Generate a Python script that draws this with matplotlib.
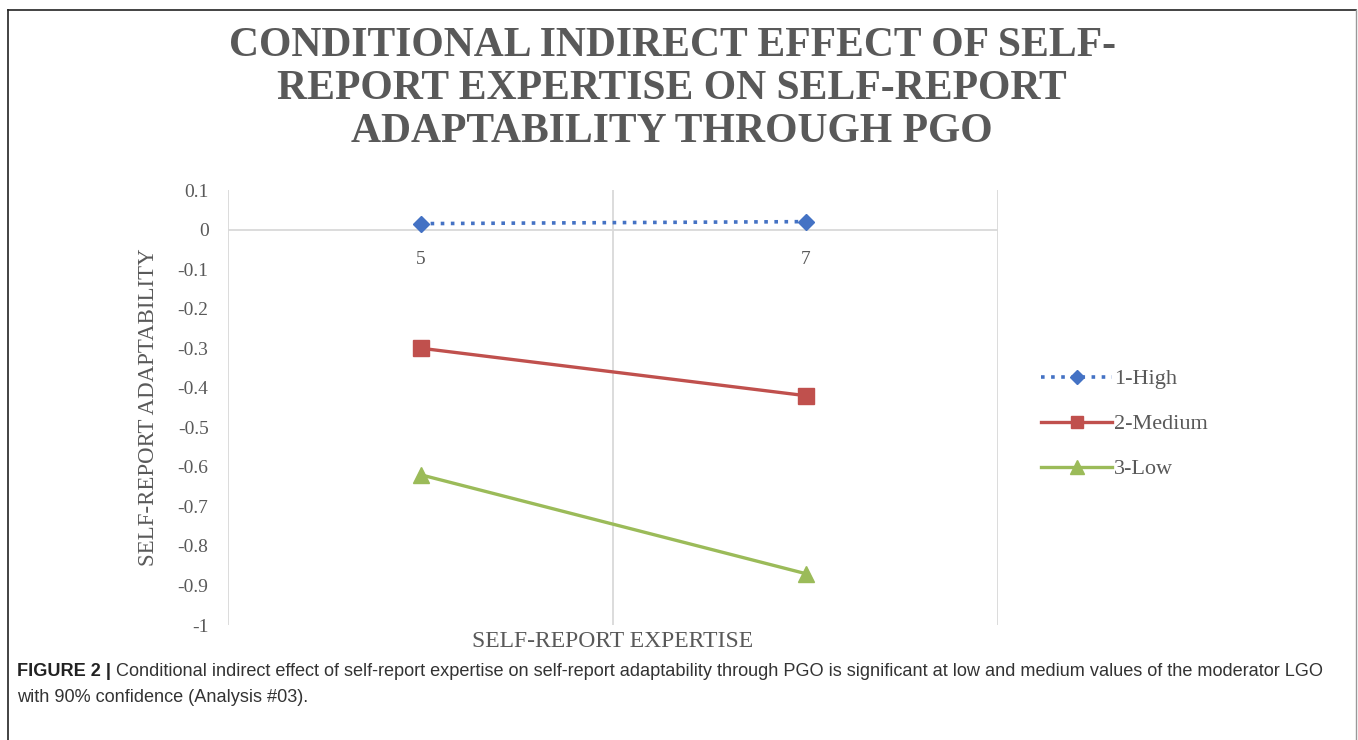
import matplotlib
matplotlib.use("Agg")
import matplotlib.pyplot as plt
from matplotlib.lines import Line2D

# moderator levels and the conditional indirect effects at expertise 5 and 7
expertise = ["5", "7"]
levels = ["1-High", "2-Medium", "3-Low"]
high = [0.015, 0.02]
medium = [-0.30, -0.42]
low = [-0.62, -0.87]
yticks = [0.1, 0, -0.1, -0.2, -0.3, -0.4, -0.5, -0.6, -0.7, -0.8, -0.9, -1]

title_lines = ["CONDITIONAL INDIRECT EFFECT OF SELF-",
               "REPORT EXPERTISE ON SELF-REPORT",
               "ADAPTABILITY THROUGH PGO"]
caption_bold = "FIGURE 2 |"
caption_1 = (" Conditional indirect effect of self-report expertise on self-report adaptability "
             "through PGO is significant at low and medium values of the moderator LGO")
caption_2 = "with 90% confidence (Analysis #03)."

serif = ["Liberation Serif", "DejaVu Serif"]
sans = ["Liberation Sans Narrow", "Liberation Sans", "DejaVu Sans"]
gray = "#595959"
grid = "#d9d9d9"

fig = plt.figure(figsize=(13.58, 7.40), dpi=100)
W, H = 1358, 740

def fx(px):
    return px / W

def fy(py):
    return 1 - py / H

ax = fig.add_axes([fx(228), fy(625), fx(998) - fx(228), fy(190) - fy(625)])
x = [0.5, 1.5]

ax.plot(x, high, linestyle=(0, (1, 1.8)), color="#4472C4", linewidth=2.6,
        marker="D", markersize=8, label=levels[0], zorder=3)
ax.plot(x, medium, color="#C0504D", linewidth=2.4,
        marker="s", markersize=11, label=levels[1], zorder=3)
ax.plot(x, low, color="#9BBB59", linewidth=2.4,
        marker="^", markersize=12, label=levels[2], zorder=3)

ax.set_xlim(0, 2)
ax.set_ylim(-1, 0.1)
for v in [0, 1, 2]:
    ax.axvline(v, color=grid, linewidth=1.3, zorder=1)
ax.axhline(0, color=grid, linewidth=1.3, zorder=1)
for s in ax.spines.values():
    s.set_visible(False)

ax.set_xticks([])
ax.set_yticks(yticks)
ax.set_yticklabels(["0.1", "0"] + ["-" + f"{abs(t):g}" for t in yticks[2:]],
                   family=serif, fontsize=14, color=gray)
ax.tick_params(axis="y", length=0, pad=14)
for xi, lab in zip(x, expertise):
    ax.text(xi, -0.075, lab, ha="center", va="center", family=serif,
            fontsize=14, color=gray)

ax.set_ylabel("SELF-REPORT ADAPTABILITY", family=serif, fontsize=16.5,
              color=gray, labelpad=13)
ax.set_xlabel("SELF-REPORT EXPERTISE", family=serif, fontsize=17,
              color=gray, labelpad=4)

leg = ax.legend(loc="center left", bbox_to_anchor=(fx(1021), fy(424)),
                bbox_transform=fig.transFigure, frameon=False,
                prop={"family": serif, "size": 16}, handlelength=3.2,
                handletextpad=0.1, labelspacing=1.1, markerscale=0.85)
for t in leg.get_texts():
    t.set_color(gray)

for i, line in enumerate(title_lines):
    fig.text(0.495, fy(46 + 43 * i), line, ha="center", va="center",
             family=serif, fontsize=30, fontweight="bold", color=gray)

# caption under the chart
cb = fig.text(fx(17), fy(671), caption_bold, ha="left", va="center",
              family=sans, fontsize=13.1, fontweight="bold", color="#222222")
fig.canvas.draw()
bb = cb.get_window_extent()
fig.text(bb.x1 / W, fy(671), caption_1, ha="left", va="center",
         family=sans, fontsize=13.1, color="#333333")
fig.text(fx(17), fy(697), caption_2, ha="left", va="center",
         family=sans, fontsize=13.1, color="#333333")

# figure frame
fig.add_artist(Line2D([fx(8), fx(1356)], [fy(10), fy(10)], color="#222222", linewidth=1.2))
fig.add_artist(Line2D([fx(8), fx(8)], [fy(10), 0], color="#222222", linewidth=1.2))
fig.add_artist(Line2D([fx(1356), fx(1356)], [fy(10), 0], color="#999999", linewidth=1.0))

fig.savefig("out.png", dpi=100)
